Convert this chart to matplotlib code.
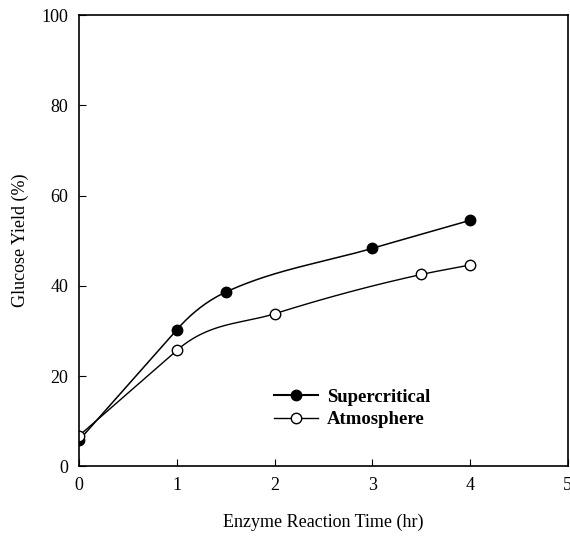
import numpy as np
import matplotlib
matplotlib.use("Agg")
import matplotlib.pyplot as plt
from matplotlib.lines import Line2D

# data
time_sc = [0, 1, 1.5, 3, 4]
yield_sc = [5.8, 30.3, 38.6, 48.3, 54.5]
time_atm = [0, 1, 2, 3.5, 4]
yield_atm = [6.8, 25.7, 33.8, 42.5, 44.6]
labels = ["Supercritical", "Atmosphere"]


def smooth(x, y, xs):
    """cubic hermite; first segment kept straight, then eased"""
    x = np.asarray(x, float)
    y = np.asarray(y, float)
    h = np.diff(x)
    d = np.diff(y) / h
    m = np.zeros_like(y)
    m[0], m[-1] = d[0], d[-1]
    for i in range(1, len(x) - 1):
        if d[i - 1] * d[i] > 0:
            w1 = 2 * h[i] + h[i - 1]
            w2 = h[i] + 2 * h[i - 1]
            m[i] = (w1 + w2) / (w1 / d[i - 1] + w2 / d[i])
    m[1] = d[0]
    idx = np.clip(np.searchsorted(x, xs) - 1, 0, len(x) - 2)
    t = (xs - x[idx]) / h[idx]
    h00 = 2 * t**3 - 3 * t**2 + 1
    h10 = t**3 - 2 * t**2 + t
    h01 = -2 * t**3 + 3 * t**2
    h11 = t**3 - t**2
    return (h00 * y[idx] + h10 * h[idx] * m[idx]
            + h01 * y[idx + 1] + h11 * h[idx] * m[idx + 1])


plt.rcParams['font.family'] = ['Liberation Serif', 'DejaVu Serif']

fig = plt.figure(figsize=(5.7, 5.39), dpi=100)
ax = fig.add_axes([0.139, 0.135, 0.857, 0.837])

xs = np.linspace(time_sc[0], time_sc[-1], 400)
ax.plot(xs, smooth(time_sc, yield_sc, xs), color='black', lw=1.1)
ax.plot(time_sc, yield_sc, 'o', color='black', ms=7.5)

xs = np.linspace(time_atm[0], time_atm[-1], 400)
ax.plot(xs, smooth(time_atm, yield_atm, xs), color='black', lw=1.0)
ax.plot(time_atm, yield_atm, 'o', mfc='white', mec='black', ms=7.5, mew=1.0)

ax.set_xlim(0, 5)
ax.set_ylim(0, 100)
ax.set_xticks([0, 1, 2, 3, 4, 5])
ax.set_yticks([0, 20, 40, 60, 80, 100])
ax.tick_params(direction='in', length=5, labelsize=13, pad=8)
for s in ax.spines.values():
    s.set_linewidth(1.2)

ax.set_xlabel("Enzyme Reaction Time (hr)", fontsize=13, labelpad=14)
ax.set_ylabel("Glucose Yield (%)", fontsize=13, labelpad=9)

handles = [
    Line2D([], [], color='black', lw=1.5, marker='o', ms=7.5),
    Line2D([], [], color='black', lw=1.0, marker='o', ms=7.5, mfc='white'),
]
ax.legend(handles, labels, loc='center left', bbox_to_anchor=(0.365, 0.128),
          frameon=False, prop={'weight': 'bold', 'size': 13.5},
          handlelength=2.3, handletextpad=0.5, labelspacing=0.3)

fig.savefig("out.png", dpi=100)
